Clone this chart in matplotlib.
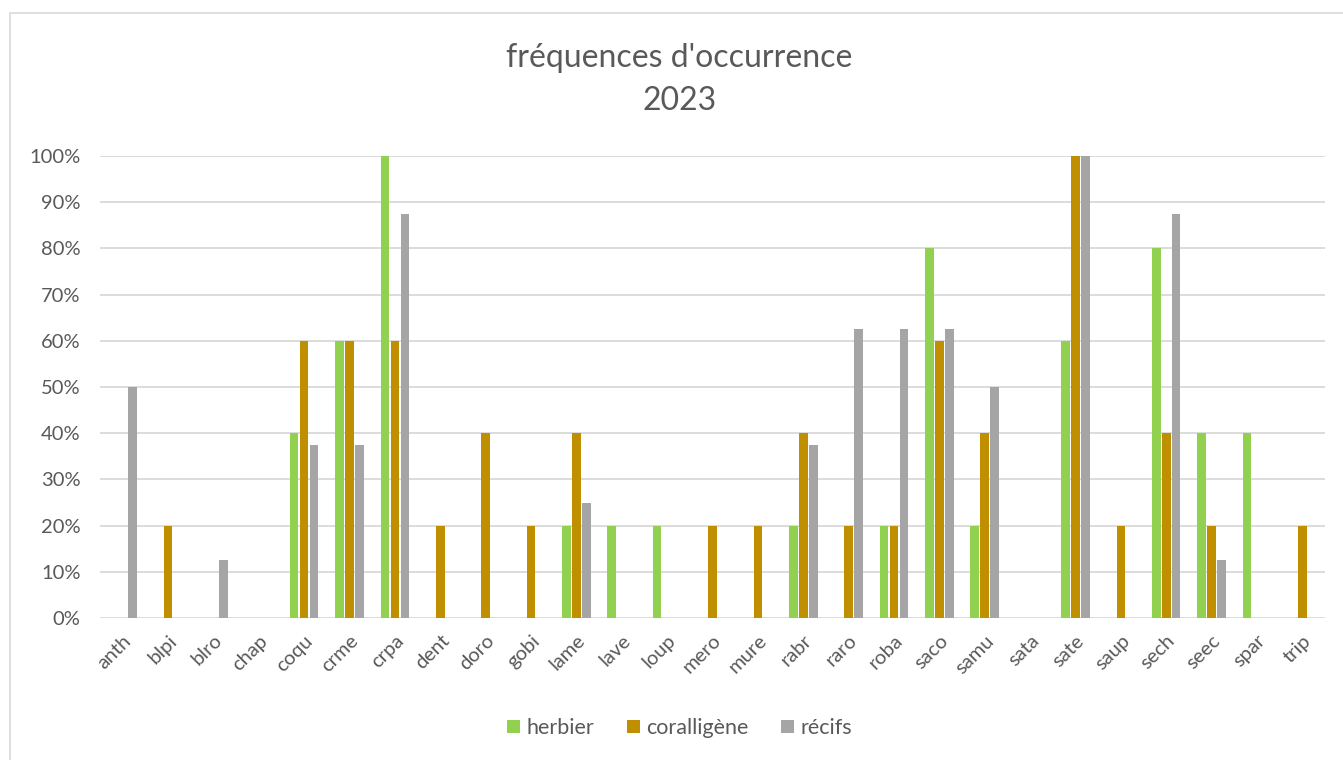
import matplotlib
matplotlib.use("Agg")
import matplotlib.pyplot as plt
import numpy as np
from matplotlib.patches import Rectangle
from matplotlib.ticker import PercentFormatter

categories = ["anth", "blpi", "blro", "chap", "coqu", "crme", "crpa", "dent", "doro",
              "gobi", "lame", "lave", "loup", "mero", "mure", "rabr", "raro", "roba",
              "saco", "samu", "sata", "sate", "saup", "sech", "seec", "spar", "trip"]
herbier = [0, 0, 0, 0, 40, 60, 100, 0, 0, 0, 20, 20, 20, 0, 0, 20, 0, 20,
           80, 20, 0, 60, 0, 80, 40, 40, 0]
coralligene = [0, 20, 0, 0, 60, 60, 60, 20, 40, 20, 40, 0, 0, 20, 20, 40, 20, 20,
               60, 40, 0, 100, 20, 40, 20, 0, 20]
recifs = [50, 0, 12.5, 0, 37.5, 37.5, 87.5, 0, 0, 0, 25, 0, 0, 0, 0, 37.5, 62.5, 62.5,
          62.5, 50, 0, 100, 0, 87.5, 12.5, 0, 0]
series_names = ["herbier", "coralligène", "récifs"]
colors = ["#92D050", "#BF8F00", "#A5A5A5"]

plt.rcParams['font.family'] = ['Lato', 'DejaVu Sans']
text_col = "#595959"

fig = plt.figure(figsize=(13.43, 7.6), dpi=100)
ax = fig.add_axes([100 / 1343, 1 - 618 / 760, 1225 / 1343, 462 / 760])

# chart frame
fig.patches.append(Rectangle((10 / 1343, -0.02), 1.0, 1 - 13 / 760 + 0.02,
                             transform=fig.transFigure, fill=False,
                             edgecolor="#D9D9D9", linewidth=1.2))

x = np.arange(len(categories))
step = 0.22
width = 0.19
for i, (vals, name, col) in enumerate(zip([herbier, coralligene, recifs], series_names, colors)):
    ax.bar(x + (i - 1) * step, np.array(vals) / 100, width, color=col, label=name, zorder=3)

ax.set_xlim(-0.5, len(categories) - 0.5)
ax.set_ylim(0, 1)
ax.set_yticks(np.arange(0, 1.01, 0.1))
ax.yaxis.set_major_formatter(PercentFormatter(1.0, decimals=0))
ax.grid(axis="y", color="#D9D9D9", linewidth=1.3, zorder=0)
for s in ax.spines.values():
    s.set_visible(False)
ax.tick_params(axis="both", length=0, colors=text_col, labelsize=14.5)
ax.tick_params(axis="y", pad=14)
ax.set_xticks(x)
ax.set_xticklabels(categories, rotation=45, ha="right", rotation_mode="anchor")
ax.tick_params(axis="x", pad=10)

fig.text(0.506, 1 - 58 / 760, "fréquences d'occurrence", ha="center", va="center",
         fontsize=23, color=text_col)
fig.text(0.506, 1 - 101 / 760, "2023", ha="center", va="center",
         fontsize=23, color=text_col)

fig.legend(loc="center", bbox_to_anchor=(0.506, 1 - 728 / 760), ncol=3, frameon=False,
           fontsize=15.5, labelcolor=text_col, handlelength=0.6, handleheight=0.6,
           handletextpad=0.3, columnspacing=1.5)

fig.savefig("out.png", dpi=100, facecolor="white")
